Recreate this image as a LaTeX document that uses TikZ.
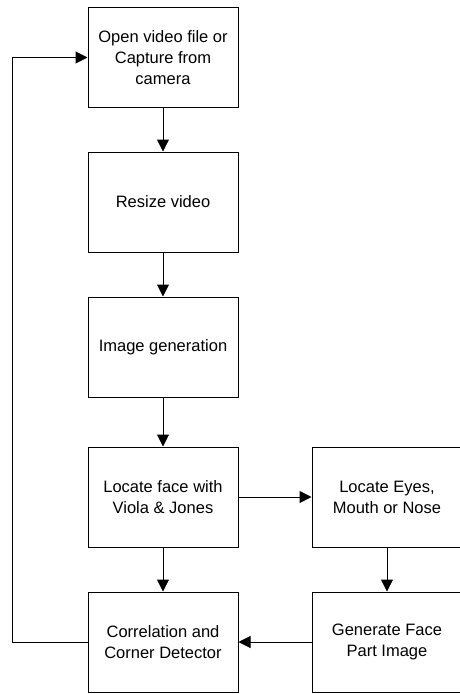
\documentclass[tikz,border=0pt]{standalone}
\usepackage{fontspec}
\setmainfont{Liberation Sans}
\usetikzlibrary{arrows.meta}

\begin{document}
\begin{tikzpicture}[x=1pt,y=-1pt,
  stepbox/.style={draw, line width=1pt, minimum width=150pt, minimum height=100pt,
    align=center, inner sep=0pt, font=\fontsize{16.5pt}{21pt}\selectfont},
  flow/.style={line width=1pt, -{Triangle[length=12pt,width=12pt]}}]
\useasboundingbox (0,0) rectangle (459,694);
% left column
\node[stepbox] (open)   at (163,57.5) {Open video file or\\Capture from\\camera};
\node[stepbox] (resize) at (163,202)  {Resize video};
\node[stepbox] (imggen) at (163,347)  {Image generation};
\node[stepbox] (face)   at (163,497)  {Locate face with\\Viola \& Jones};
\node[stepbox] (corr)   at (163,642)  {Correlation and\\Corner Detector};
% right column
\node[stepbox] (eyes)   at (387,497)  {Locate Eyes,\\Mouth or Nose};
\node[stepbox] (part)   at (387,642)  {Generate Face\\Part Image};
\coordinate (loopbot) at (12,642);
\coordinate (looptop) at (12,57.5);
% connectors
\draw[flow] (open) -- (resize);
\draw[flow] (resize) -- (imggen);
\draw[flow] (imggen) -- (face);
\draw[flow] (face) -- (corr);
\draw[flow] (face) -- (eyes);
\draw[flow] (eyes) -- (part);
\draw[flow] (part) -- (corr);
\draw[flow] (corr.west) -- (loopbot) -- (looptop) -- (open.west);
\end{tikzpicture}
\end{document}
